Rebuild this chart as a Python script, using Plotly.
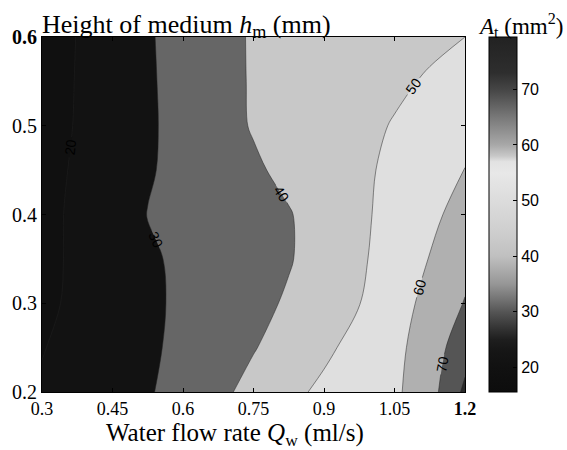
import plotly.graph_objects as go

# Data
flow_rate = [0.3, 0.375, 0.45, 0.525, 0.6, 0.675, 0.75, 0.825, 0.9, 0.975, 1.05, 1.125, 1.2]
height = [0.2, 0.25, 0.3, 0.35, 0.4, 0.45, 0.5, 0.55, 0.6]
area_row_020 = [21.0, 23.7, 26.5, 29.2, 33.3, 37.9, 42.8, 47.8, 51.8, 55.1, 58.3, 66.1, 82.0]
area_row_025 = [19.6, 22.8, 25.7, 28.6, 32.0, 35.8, 39.5, 43.9, 48.3, 52.9, 57.5, 64.9, 76.0]
area_row_030 = [18.0, 21.8, 25.1, 28.4, 31.5, 34.6, 37.6, 41.0, 45.4, 49.8, 56.0, 62.8, 70.5]
area_row_035 = [17.5, 21.6, 25.1, 28.7, 31.7, 34.2, 36.8, 39.4, 43.7, 48.6, 54.3, 60.3, 67.1]
area_row_040 = [17.0, 21.9, 26.1, 30.2, 32.5, 34.8, 37.2, 39.5, 43.6, 48.3, 53.0, 57.8, 63.7]
area_row_045 = [16.5, 21.3, 25.3, 29.2, 32.5, 35.7, 38.8, 42.0, 45.1, 48.3, 51.9, 56.1, 60.2]
area_row_050 = [16.0, 20.6, 24.7, 28.8, 32.8, 36.9, 40.6, 43.0, 45.5, 47.9, 50.5, 53.6, 56.8]
area_row_055 = [15.8, 20.4, 24.7, 28.9, 33.1, 37.3, 40.7, 42.7, 44.7, 46.6, 48.6, 50.8, 53.4]
area_row_060 = [15.7, 20.2, 24.7, 29.1, 33.4, 37.6, 40.7, 42.2, 43.8, 45.3, 46.9, 48.4, 50.0]
area = [area_row_020, area_row_025, area_row_030, area_row_035, area_row_040,
        area_row_045, area_row_050, area_row_055, area_row_060]

x_ticks = [0.3, 0.45, 0.6, 0.75, 0.9, 1.05, 1.2]
x_ticktext = ["0.3", "0.45", "0.6", "0.75", "0.9", "1.05", "<b>1.2</b>"]
y_ticks = [0.2, 0.3, 0.4, 0.5, 0.6]
y_ticktext = ["0.2", "0.3", "0.4", "0.5", "<b>0.6</b>"]
cbar_ticks = [20, 30, 40, 50, 60, 70]
cbar_min, cbar_max = 15.6, 79.4

# Band fill colours: <20, 20-30, 30-40, 40-50, 50-60, 60-70, 70-80, >80
band_colors = ['#101010', '#121212', '#666666', '#c8c8c8', '#dfdfdf', '#b0b0b0', '#555555', '#2a2a2a']
n_bands = len(band_colors)
fill_scale = []
for k, c in enumerate(band_colors):
    lo = 0.0 if k == 0 else (k - 0.5) / (n_bands - 1)
    hi = 1.0 if k == n_bands - 1 else (k + 0.5) / (n_bands - 1)
    fill_scale.append([lo, c])
    fill_scale.append([hi, c])

bar_stops = [(15.6, '#0d0d0d'), (20, '#111111'), (23, '#161616'), (25, '#1e1e1e'), (27, '#333333'),
             (30, '#555555'), (32, '#707070'), (35, '#969696'), (40, '#c0c0c0'), (45, '#d0d0d0'),
             (50, '#dcdcdc'), (55, '#e8e8e8'), (57, '#e2e2e2'), (58, '#c8c8c8'), (60, '#a8a8a8'),
             (65, '#787878'), (70, '#454545'), (73, '#2e2e2e'), (79.4, '#222222')]
bar_scale = [[(v - cbar_min) / (cbar_max - cbar_min), c] for v, c in bar_stops]

serif = "Liberation Serif, Times New Roman, serif"
sans = "Liberation Sans, Arial, sans-serif"

fig = go.Figure()
fig.add_trace(go.Heatmap(
    x=flow_rate, y=height, z=area, opacity=0, zmin=cbar_min, zmax=cbar_max,
    colorscale=bar_scale, showscale=True, hoverinfo='skip',
    colorbar=dict(
        x=1.0565, xanchor='left', xpad=0, y=0.5, yanchor='middle', len=1.0, lenmode='fraction',
        ypad=0, thickness=28, thicknessmode='pixels', outlinewidth=1, outlinecolor='black',
        tickvals=cbar_ticks, ticks='inside', ticklen=4, tickcolor='black',
        tickfont=dict(family=sans, size=16, color='black'),
    ),
))
fig.add_trace(go.Contour(
    x=flow_rate, y=height, z=area,
    autocontour=False,
    contours=dict(start=20, end=80, size=10, coloring='fill', showlabels=True,
                  labelfont=dict(family=sans, size=14, color='black')),
    colorscale=fill_scale, showscale=False,
    line=dict(color='#222222', width=0.5),
))

fig.update_layout(
    width=567, height=450,
    margin=dict(l=40, r=102, t=37, b=58),
    plot_bgcolor='white', paper_bgcolor='white',
    showlegend=False,
    xaxis=dict(range=[0.3, 1.2], tickvals=x_ticks, ticktext=x_ticktext,
               showline=True, linecolor='black', linewidth=1, mirror='ticks',
               ticks='inside', ticklen=4, tickcolor='black', showgrid=False, zeroline=False,
               tickfont=dict(family=serif, size=18, color='black')),
    yaxis=dict(range=[0.2, 0.6], tickvals=y_ticks, ticktext=y_ticktext,
               showline=True, linecolor='black', linewidth=1, mirror='ticks',
               ticks='inside', ticklen=4, tickcolor='black', showgrid=False, zeroline=False,
               tickfont=dict(family=serif, size=20, color='black')),
    annotations=[
        dict(text="Height of medium <i>h</i><sub>m</sub> (mm)", xref='paper', yref='paper',
             x=0.342, y=1, xanchor='center', yanchor='bottom', showarrow=False, yshift=-7,
             font=dict(family=serif, size=26, color='black')),
        dict(text="<i>A</i><sub>t</sub> (mm<sup>2</sup>)", xref='paper', yref='paper',
             x=1.1306, y=1, xanchor='center', yanchor='bottom', showarrow=False, yshift=-6,
             font=dict(family=serif, size=23, color='black')),
        dict(text="Water flow rate <i>Q</i><sub>w</sub> (ml/s)", xref='paper', yref='paper',
             x=0.4565, y=0, xanchor='center', yanchor='top', showarrow=False, yshift=-25,
             font=dict(family=serif, size=25, color='black')),
    ],
)

fig.write_html("out.html")
